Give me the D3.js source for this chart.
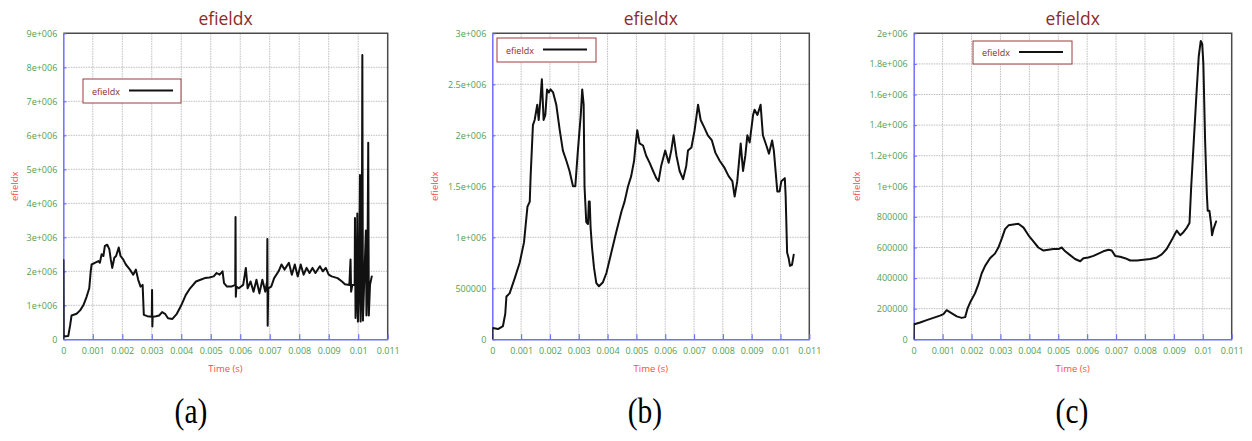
<!DOCTYPE html>
<html>
<head>
<meta charset="utf-8">
<script src="https://cdn.jsdelivr.net/npm/d3@7"></script>
<style>
  html, body { margin: 0; padding: 0; background: #fff; }
  svg { display: block; }
</style>
</head>
<body>
<svg id="fig" width="1252" height="441"></svg>
<script>
// ---- Shared axis ticks (time in seconds) ----
const timeTicks = [0, 0.001, 0.002, 0.003, 0.004, 0.005, 0.006, 0.007, 0.008, 0.009, 0.01, 0.011];
const timeTickLabels = ["0", "0.001", "0.002", "0.003", "0.004", "0.005", "0.006", "0.007", "0.008", "0.009", "0.01", "0.011"];

// ---- Panel (a) ----
const timeA = [
  0, 0.000005, 0.000015, 0.00017, 0.00023, 0.00028, 0.00045, 0.00057, 0.00068, 0.00079,
  0.00088, 0.00093, 0.00096, 0.00107, 0.00119, 0.00124, 0.0013, 0.00136, 0.00141, 0.00149,
  0.00156, 0.00161, 0.00166, 0.00173, 0.00179, 0.00188, 0.00194, 0.00203, 0.00212, 0.00226,
  0.00237, 0.00246, 0.00254, 0.00262, 0.00269, 0.00273, 0.00285, 0.003, 0.00301, 0.00302,
  0.00303, 0.00315, 0.00325, 0.00335, 0.00345, 0.00355, 0.0037, 0.00385, 0.004, 0.00415,
  0.0043, 0.0045, 0.00465, 0.0048, 0.00495, 0.0051, 0.0052, 0.0053, 0.0054, 0.00545,
  0.00555, 0.0057, 0.00583, 0.00584, 0.00585, 0.00587, 0.00595, 0.0061, 0.00619, 0.00625,
  0.00635, 0.00645, 0.00655, 0.00665, 0.00675, 0.00685, 0.00691, 0.00692, 0.00693, 0.00695,
  0.00705, 0.00715, 0.0073, 0.0074, 0.0075, 0.00765, 0.00775, 0.00785, 0.00795, 0.00805,
  0.00815, 0.00825, 0.00835, 0.00845, 0.00855, 0.0087, 0.0088, 0.0089, 0.009, 0.0091,
  0.0093, 0.00945, 0.00955, 0.0097, 0.00974, 0.00976, 0.0098, 0.00988, 0.00989, 0.00991,
  0.00995, 0.00997, 0.00999, 0.01003, 0.01006, 0.01008, 0.01012, 0.01014, 0.01016, 0.0102,
  0.01026, 0.01028, 0.01031, 0.01034, 0.01036, 0.0104, 0.01046
];
const efieldA = [
  0, 2.33e6, 0.08e6, 0.1e6, 0.4e6, 0.7e6, 0.75e6, 0.85e6, 1.0e6, 1.25e6,
  1.5e6, 2.0e6, 2.2e6, 2.25e6, 2.3e6, 2.25e6, 2.5e6, 2.45e6, 2.75e6, 2.78e6,
  2.65e6, 2.35e6, 2.1e6, 2.4e6, 2.45e6, 2.7e6, 2.45e6, 2.35e6, 2.2e6, 2.05e6,
  1.9e6, 2.05e6, 1.75e6, 1.55e6, 1.6e6, 0.72e6, 0.68e6, 0.66e6, 1.45e6, 0.38e6,
  0.66e6, 0.68e6, 0.7e6, 0.8e6, 0.75e6, 0.62e6, 0.6e6, 0.75e6, 1.0e6, 1.3e6,
  1.5e6, 1.7e6, 1.75e6, 1.8e6, 1.82e6, 1.85e6, 1.95e6, 1.9e6, 2.0e6, 1.65e6,
  1.55e6, 1.55e6, 1.6e6, 3.6e6, 1.25e6, 1.55e6, 1.5e6, 1.6e6, 2.1e6, 1.5e6,
  1.7e6, 1.4e6, 1.75e6, 1.35e6, 1.75e6, 1.4e6, 1.7e6, 2.95e6, 0.4e6, 1.5e6,
  1.55e6, 1.8e6, 2.0e6, 2.2e6, 2.05e6, 2.25e6, 1.9e6, 2.2e6, 1.85e6, 2.2e6,
  1.9e6, 2.1e6, 1.95e6, 2.1e6, 1.95e6, 2.15e6, 2.0e6, 2.1e6, 1.9e6, 1.85e6,
  1.8e6, 1.7e6, 1.62e6, 1.6e6, 2.35e6, 1.4e6, 1.6e6, 1.6e6, 3.57e6, 0.63e6,
  1.6e6, 3.7e6, 0.52e6, 1.7e6, 4.83e6, 0.52e6, 1.8e6, 8.36e6, 0.55e6, 1.6e6,
  3.2e6, 0.7e6, 1.6e6, 5.78e6, 0.7e6, 1.6e6, 1.85e6
];
const efieldTicksA = [0, 1e6, 2e6, 3e6, 4e6, 5e6, 6e6, 7e6, 8e6, 9e6];
const efieldTickLabelsA = ["0", "1e+006", "2e+006", "3e+006", "4e+006", "5e+006", "6e+006", "7e+006", "8e+006", "9e+006"];

// ---- Panel (b) ----
const timeB = [
  0, 0.000005, 0.00002, 0.0002, 0.00037, 0.00045, 0.00049, 0.0006, 0.00078, 0.00095,
  0.0011, 0.00122, 0.0013, 0.00133, 0.00141, 0.00147, 0.00156, 0.00161, 0.00167, 0.00172,
  0.00178, 0.00184, 0.0019, 0.00196, 0.00202, 0.00211, 0.00222, 0.00234, 0.00245, 0.00257,
  0.00268, 0.0028, 0.00288, 0.00297, 0.00307, 0.00312, 0.00317, 0.0032, 0.00326, 0.00332,
  0.00335, 0.00338, 0.00341, 0.00346, 0.00353, 0.00361, 0.0037, 0.00384, 0.00396, 0.00413,
  0.0043, 0.00448, 0.00459, 0.00471, 0.00482, 0.00492, 0.00497, 0.00503, 0.00511, 0.00523,
  0.00534, 0.00546, 0.00558, 0.00569, 0.00577, 0.00586, 0.006, 0.00612, 0.00621, 0.00629,
  0.00639, 0.0065, 0.00662, 0.00673, 0.00679, 0.00691, 0.00702, 0.00714, 0.00723, 0.00735,
  0.00748, 0.00762, 0.00774, 0.00789, 0.00806, 0.0082, 0.00833, 0.00841, 0.0085, 0.00862,
  0.0087, 0.00878, 0.00885, 0.00893, 0.00905, 0.0091, 0.0092, 0.00931, 0.00939, 0.00951,
  0.0096, 0.00971, 0.00977, 0.00989, 0.00997, 0.01003, 0.01015, 0.01018, 0.01023, 0.01028,
  0.01033, 0.0104, 0.01046
];
const efieldB = [
  0, 0.1e6, 0.11e6, 0.1e6, 0.13e6, 0.25e6, 0.42e6, 0.45e6, 0.6e6, 0.75e6,
  0.95e6, 1.3e6, 1.35e6, 1.6e6, 2.1e6, 2.15e6, 2.3e6, 2.15e6, 2.35e6, 2.55e6,
  2.15e6, 2.2e6, 2.45e6, 2.42e6, 2.45e6, 2.42e6, 2.3e6, 2.05e6, 1.85e6, 1.75e6,
  1.65e6, 1.5e6, 1.5e6, 1.85e6, 2.2e6, 2.45e6, 2.3e6, 1.5e6, 1.15e6, 1.13e6,
  1.35e6, 1.35e6, 1.1e6, 0.9e6, 0.7e6, 0.55e6, 0.52e6, 0.56e6, 0.65e6, 0.85e6,
  1.05e6, 1.25e6, 1.35e6, 1.5e6, 1.6e6, 1.75e6, 1.9e6, 2.05e6, 1.92e6, 1.9e6,
  1.8e6, 1.73e6, 1.65e6, 1.58e6, 1.55e6, 1.7e6, 1.85e6, 1.73e6, 1.85e6, 2.0e6,
  1.8e6, 1.65e6, 1.57e6, 1.7e6, 1.85e6, 1.88e6, 2.05e6, 2.3e6, 2.15e6, 2.08e6,
  2.0e6, 1.95e6, 1.83e6, 1.75e6, 1.68e6, 1.6e6, 1.55e6, 1.4e6, 1.55e6, 1.92e6,
  1.65e6, 1.8e6, 2.0e6, 1.93e6, 2.2e6, 2.25e6, 2.2e6, 2.3e6, 2.0e6, 1.9e6,
  1.82e6, 1.95e6, 1.85e6, 1.45e6, 1.45e6, 1.55e6, 1.58e6, 1.4e6, 0.85e6, 0.8e6,
  0.72e6, 0.73e6, 0.83e6
];
const efieldTicksB = [0, 0.5e6, 1e6, 1.5e6, 2e6, 2.5e6, 3e6];
const efieldTickLabelsB = ["0", "500000", "1e+006", "1.5e+006", "2e+006", "2.5e+006", "3e+006"];

// ---- Panel (c) ----
const timeC = [
  0, 0.000005, 0.00005, 0.00022, 0.00045, 0.00068, 0.00091, 0.00103, 0.00114, 0.00132,
  0.00149, 0.00166, 0.00178, 0.00186, 0.00195, 0.00212, 0.00224, 0.00235, 0.00247, 0.00264,
  0.00281, 0.00293, 0.00305, 0.00316, 0.00328, 0.00345, 0.00362, 0.0038, 0.00397, 0.00414,
  0.00431, 0.00449, 0.00466, 0.00483, 0.00501, 0.00512, 0.00524, 0.00541, 0.00558, 0.00576,
  0.00587, 0.00604, 0.00622, 0.00639, 0.00656, 0.00674, 0.00685, 0.00697, 0.00714, 0.00731,
  0.00749, 0.00772, 0.00795, 0.00818, 0.00841, 0.00858, 0.00875, 0.00893, 0.00904, 0.0091,
  0.00922, 0.00933, 0.00945, 0.00954, 0.0096, 0.00969, 0.00978, 0.00986, 0.00993, 0.00998,
  0.01002, 0.01008, 0.01014, 0.01017, 0.01023, 0.01029, 0.01032, 0.01037, 0.01046
];
const efieldC = [
  0, 0.1e6, 0.1e6, 0.11e6, 0.125e6, 0.14e6, 0.155e6, 0.165e6, 0.19e6, 0.17e6,
  0.15e6, 0.14e6, 0.145e6, 0.2e6, 0.24e6, 0.3e6, 0.36e6, 0.43e6, 0.48e6, 0.53e6,
  0.56e6, 0.6e6, 0.66e6, 0.72e6, 0.745e6, 0.75e6, 0.755e6, 0.73e6, 0.68e6, 0.64e6,
  0.6e6, 0.58e6, 0.585e6, 0.59e6, 0.59e6, 0.6e6, 0.575e6, 0.55e6, 0.525e6, 0.51e6,
  0.53e6, 0.535e6, 0.545e6, 0.56e6, 0.575e6, 0.585e6, 0.58e6, 0.545e6, 0.54e6, 0.53e6,
  0.515e6, 0.515e6, 0.52e6, 0.525e6, 0.535e6, 0.555e6, 0.59e6, 0.65e6, 0.69e6, 0.71e6,
  0.68e6, 0.7e6, 0.73e6, 0.76e6, 1.0e6, 1.3e6, 1.6e6, 1.85e6, 1.95e6, 1.93e6,
  1.8e6, 1.3e6, 0.95e6, 0.84e6, 0.84e6, 0.75e6, 0.68e6, 0.72e6, 0.77e6
];
const efieldTicksC = [0, 0.2e6, 0.4e6, 0.6e6, 0.8e6, 1e6, 1.2e6, 1.4e6, 1.6e6, 1.8e6, 2e6];
const efieldTickLabelsC = ["0", "200000", "400000", "600000", "800000", "1e+006", "1.2e+006", "1.4e+006", "1.6e+006", "1.8e+006", "2e+006"];

const seriesName = "efieldx";
const captions = ["(a)", "(b)", "(c)"];

// ---- Styling ----
const COLORS = {
  title: "#8c2b2b",
  tick: "#52a052",
  axisLabel: "#ff4a4a",
  axis: "#6f6fff",
  frame: "#4a4a4a",
  grid: "#bdbdbd",
  legendBorder: "#9c3b3b",
  line: "#111111"
};
const SANS = "'Open Sans', 'Noto Sans', sans-serif";

const panels = [
  { time: timeA, efield: efieldA, yTicks: efieldTicksA, yLabels: efieldTickLabelsA, yMax: 9e6,
    box: { left: 63.3, right: 387.7, top: 33.3, bottom: 339.3 },
    legend: { x: 83, y: 79, w: 98, h: 24 }, yLabelOffset: 48, captionX: 191 },
  { time: timeB, efield: efieldB, yTicks: efieldTicksB, yLabels: efieldTickLabelsB, yMax: 3e6,
    box: { left: 492.3, right: 809.3, top: 33.3, bottom: 339.3 },
    legend: { x: 497, y: 38, w: 99, h: 24 }, yLabelOffset: 57, captionX: 645 },
  { time: timeC, efield: efieldC, yTicks: efieldTicksC, yLabels: efieldTickLabelsC, yMax: 2e6,
    box: { left: 913.7, right: 1231.7, top: 33.3, bottom: 339.3 },
    legend: { x: 973, y: 41, w: 99, h: 23 }, yLabelOffset: 57, captionX: 1072 }
];

const svg = d3.select("#fig");
svg.append("rect").attr("width", 1252).attr("height", 441).attr("fill", "#fff");

panels.forEach((p, i) => {
  const b = p.box;
  const x = d3.scaleLinear().domain([0, 0.011]).range([b.left, b.right]);
  const y = d3.scaleLinear().domain([0, p.yMax]).range([b.bottom, b.top]);
  const g = svg.append("g");

  // grid
  const grid = g.append("g").attr("stroke", COLORS.grid).attr("stroke-width", 1)
    .attr("stroke-dasharray", "1.5,1");
  grid.selectAll(".gx").data(timeTicks.slice(1, -1)).join("line")
    .attr("x1", d => x(d)).attr("x2", d => x(d))
    .attr("y1", b.top).attr("y2", b.bottom);
  grid.selectAll(".gy").data(p.yTicks.slice(1, -1)).join("line")
    .attr("x1", b.left).attr("x2", b.right)
    .attr("y1", d => y(d)).attr("y2", d => y(d));

  // top / right frame
  g.append("path")
    .attr("d", `M${b.left},${b.top}H${b.right}V${b.bottom}`)
    .attr("fill", "none").attr("stroke", COLORS.frame).attr("stroke-width", 1.5);

  // bottom axis (ticks point into the plot)
  const xAxis = d3.axisBottom(x).tickValues(timeTicks)
    .tickFormat((d, k) => timeTickLabels[k]).tickSizeInner(-5).tickSizeOuter(0).tickPadding(8);
  const gx = g.append("g").attr("transform", `translate(0,${b.bottom})`).call(xAxis);
  gx.select(".domain").attr("stroke", COLORS.axis).attr("stroke-width", 1.5);
  gx.selectAll(".tick line").attr("stroke", COLORS.axis).attr("stroke-width", 1.2);
  gx.selectAll(".tick text").attr("fill", COLORS.tick)
    .attr("font-family", SANS).attr("font-size", 9);

  // left axis (ticks point into the plot)
  const yAxis = d3.axisLeft(y).tickValues(p.yTicks)
    .tickFormat((d, k) => p.yLabels[k]).tickSizeInner(-3).tickSizeOuter(0).tickPadding(6);
  const gy = g.append("g").attr("transform", `translate(${b.left},0)`).call(yAxis);
  gy.select(".domain").attr("stroke", COLORS.axis).attr("stroke-width", 1.5);
  gy.selectAll(".tick line").attr("stroke", COLORS.axis).attr("stroke-width", 1.2);
  gy.selectAll(".tick text").attr("fill", COLORS.tick)
    .attr("font-family", SANS).attr("font-size", 9);

  // data line
  const clipId = `clip-${i}`;
  g.append("clipPath").attr("id", clipId).append("rect")
    .attr("x", b.left).attr("y", b.top - 1)
    .attr("width", b.right - b.left).attr("height", b.bottom - b.top + 1);
  const pts = p.time.map((t, k) => [t, p.efield[k]]);
  g.append("path").datum(pts)
    .attr("clip-path", `url(#${clipId})`)
    .attr("fill", "none").attr("stroke", COLORS.line).attr("stroke-width", 2)
    .attr("stroke-linejoin", "round").attr("stroke-linecap", "round")
    .attr("d", d3.line().x(d => x(d[0])).y(d => y(d[1])));

  // title
  const cx = (b.left + b.right) / 2;
  g.append("text").attr("x", cx).attr("y", 25).attr("text-anchor", "middle")
    .attr("font-family", SANS).attr("font-size", 17.5).attr("fill", COLORS.title)
    .text(seriesName);

  // axis labels
  g.append("text").attr("x", cx).attr("y", b.bottom + 33).attr("text-anchor", "middle")
    .attr("font-family", SANS).attr("font-size", 9.5).attr("fill", COLORS.axisLabel)
    .text("Time (s)");
  const ly = (b.top + b.bottom) / 2;
  g.append("text")
    .attr("transform", `translate(${b.left - p.yLabelOffset + 3},${ly}) rotate(-90)`)
    .attr("text-anchor", "middle")
    .attr("font-family", SANS).attr("font-size", 9.5).attr("fill", COLORS.axisLabel)
    .text(seriesName);

  // legend
  const L = p.legend;
  const lg = g.append("g").attr("transform", `translate(${L.x},${L.y})`);
  lg.append("rect").attr("width", L.w).attr("height", L.h)
    .attr("fill", "#fff").attr("stroke", COLORS.legendBorder).attr("stroke-width", 1);
  lg.append("text").attr("x", 9).attr("y", L.h / 2 + 3.5)
    .attr("font-family", SANS).attr("font-size", 9).attr("fill", COLORS.title)
    .text(seriesName);
  lg.append("line").attr("x1", 46).attr("x2", 90).attr("y1", L.h / 2 - 0.5).attr("y2", L.h / 2 - 0.5)
    .attr("stroke", COLORS.line).attr("stroke-width", 2);

  // sub-figure caption (condensed serif)
  svg.append("text")
    .attr("transform", `translate(${p.captionX},423) scale(0.82,1)`)
    .attr("text-anchor", "middle")
    .attr("font-family", "'Liberation Serif', 'Times New Roman', serif")
    .attr("font-size", 36).attr("fill", "#000")
    .text(captions[i]);
});
</script>
</body>
</html>
